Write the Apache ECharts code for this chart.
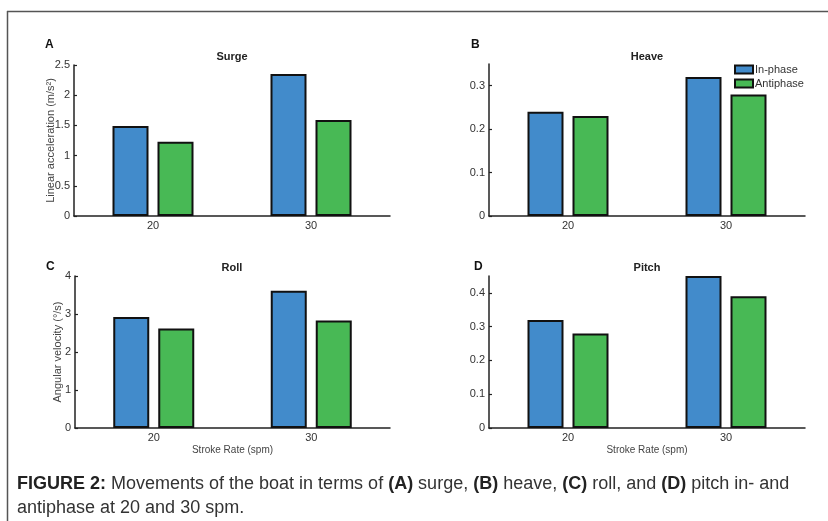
<!DOCTYPE html>
<html><head><meta charset="utf-8">
<script src="https://cdn.jsdelivr.net/npm/echarts@6/dist/echarts.min.js"></script>
<style>html,body{margin:0;padding:0;background:#fff;}#c{width:828px;height:521px;}</style>
</head><body><div id="c"></div>
<script>
const categories = ['20', '30'];
const seriesNames = ['In-phase', 'Antiphase'];
const surgeIn = [1.49, 2.35];
const surgeAnti = [1.23, 1.59];
const heaveIn = [0.24, 0.32];
const heaveAnti = [0.23, 0.28];
const rollIn = [2.92, 3.61];
const rollAnti = [2.62, 2.83];
const pitchIn = [0.32, 0.45];
const pitchAnti = [0.28, 0.39];
const surgeTicks = [0, 0.5, 1, 1.5, 2, 2.5];
const heaveTicks = [0, 0.1, 0.2, 0.3];
const rollTicks = [0, 1, 2, 3, 4];
const pitchTicks = [0, 0.1, 0.2, 0.3, 0.4];
const panelTitles = ['Surge', 'Heave', 'Roll', 'Pitch'];
const panelLetters = ['A', 'B', 'C', 'D'];
const yNames = ['Linear acceleration (m/s\u00B2)', '', 'Angular velocity (\u00B0/s)', ''];
const xName = 'Stroke Rate (spm)';

const FONT = '"Liberation Sans", Arial, Helvetica, sans-serif';
const BLUE = '#428BCB';
const GREEN = '#48B955';

const grids = [
  {left: 74, top: 65, width: 316, height: 151},
  {left: 489, top: 64, width: 316, height: 152},
  {left: 75, top: 276, width: 315, height: 152},
  {left: 489, top: 276, width: 316, height: 152}
];
const yMax = [2.5, 0.35, 4, 0.45];
const yTicks = [surgeTicks, heaveTicks, rollTicks, pitchTicks];
const nameGaps = [18, 0, 12, 0];
const dataIn = [surgeIn, heaveIn, rollIn, pitchIn];
const dataAnti = [surgeAnti, heaveAnti, rollAnti, pitchAnti];

const xAxes = [], yAxes = [], series = [];
for (let i = 0; i < 4; i++) {
  xAxes.push({
    gridIndex: i, type: 'category', data: categories,
    name: (i >= 2) ? xName : '', nameLocation: 'middle', nameGap: 17, nameMoveOverlap: false,
    nameTextStyle: {fontFamily: FONT, fontSize: 10, color: '#444'},
    axisLine: {lineStyle: {color: '#222', width: 1.5}},
    axisTick: {alignWithLabel: true, inside: true, length: 3, lineStyle: {color: '#222', width: 1.2}},
    axisLabel: {fontFamily: FONT, fontSize: 11, color: '#333', margin: 4}
  });
  yAxes.push({
    gridIndex: i, type: 'value', min: 0, max: yMax[i],
    name: yNames[i], nameLocation: 'middle', nameGap: nameGaps[i], nameMoveOverlap: false,
    nameTextStyle: {fontFamily: FONT, fontSize: 11, color: '#444'},
    splitLine: {show: false},
    axisLine: {show: true, lineStyle: {color: '#222', width: 1.5}},
    axisTick: {show: true, inside: true, length: 3, customValues: yTicks[i], lineStyle: {color: '#222', width: 1.2}},
    axisLabel: {fontFamily: FONT, fontSize: 11, color: '#333', margin: 4, customValues: yTicks[i]}
  });
  series.push({
    name: seriesNames[0], type: 'bar', xAxisIndex: i, yAxisIndex: i, data: dataIn[i],
    barWidth: 36, barGap: '25%',
    itemStyle: {color: BLUE, borderColor: '#111', borderWidth: 2}
  });
  series.push({
    name: seriesNames[1], type: 'bar', xAxisIndex: i, yAxisIndex: i, data: dataAnti[i],
    barWidth: 36, barGap: '25%',
    itemStyle: {color: GREEN, borderColor: '#111', borderWidth: 2}
  });
}

const titlePos = [[232, 57], [647, 57], [232, 268], [647, 268]];
const letterPos = [[45, 45], [471, 45], [46, 267], [474, 267]];
const graphics = [
  {type: 'line', shape: {x1: 7, y1: 11.5, x2: 828, y2: 11.5}, style: {stroke: '#555', lineWidth: 1.5}},
  {type: 'line', shape: {x1: 7.5, y1: 11, x2: 7.5, y2: 521}, style: {stroke: '#555', lineWidth: 1.5}}
];
for (let i = 0; i < 4; i++) {
  graphics.push({type: 'text', x: titlePos[i][0], y: titlePos[i][1],
    style: {text: panelTitles[i], fontFamily: FONT, fontSize: 11, fontWeight: 'bold', fill: '#222', align: 'center', verticalAlign: 'middle'}});
  graphics.push({type: 'text', x: letterPos[i][0], y: letterPos[i][1],
    style: {text: panelLetters[i], fontFamily: FONT, fontSize: 12, fontWeight: 'bold', fill: '#111', align: 'left', verticalAlign: 'middle'}});
}
graphics.push({type: 'text', x: 17, y: 484, style: {
  text: '{b|FIGURE 2:} Movements of the boat in terms of {b|(A)} surge, {b|(B)} heave, {b|(C)} roll, and {b|(D)} pitch in- and',
  fontFamily: FONT, fontSize: 18, fill: '#333', verticalAlign: 'middle',
  rich: {b: {fontFamily: FONT, fontSize: 18, fontWeight: 'bold', fill: '#222'}}
}});
graphics.push({type: 'text', x: 17, y: 508, style: {
  text: 'antiphase at 20 and 30 spm.', fontFamily: FONT, fontSize: 18, fill: '#333', verticalAlign: 'middle'
}});

const chart = echarts.init(document.getElementById('c'));
chart.setOption({
  animation: false,
  backgroundColor: '#fff',
  grid: grids,
  xAxis: xAxes,
  yAxis: yAxes,
  legend: {
    data: seriesNames, orient: 'vertical', left: 734, top: 64,
    itemWidth: 18, itemHeight: 8, itemGap: 3, icon: 'rect',
    textStyle: {fontFamily: FONT, fontSize: 11, color: '#333', padding: [0, 0, 0, -3]},
    padding: 0
  },
  series: series,
  graphic: graphics
});
</script></body></html>
